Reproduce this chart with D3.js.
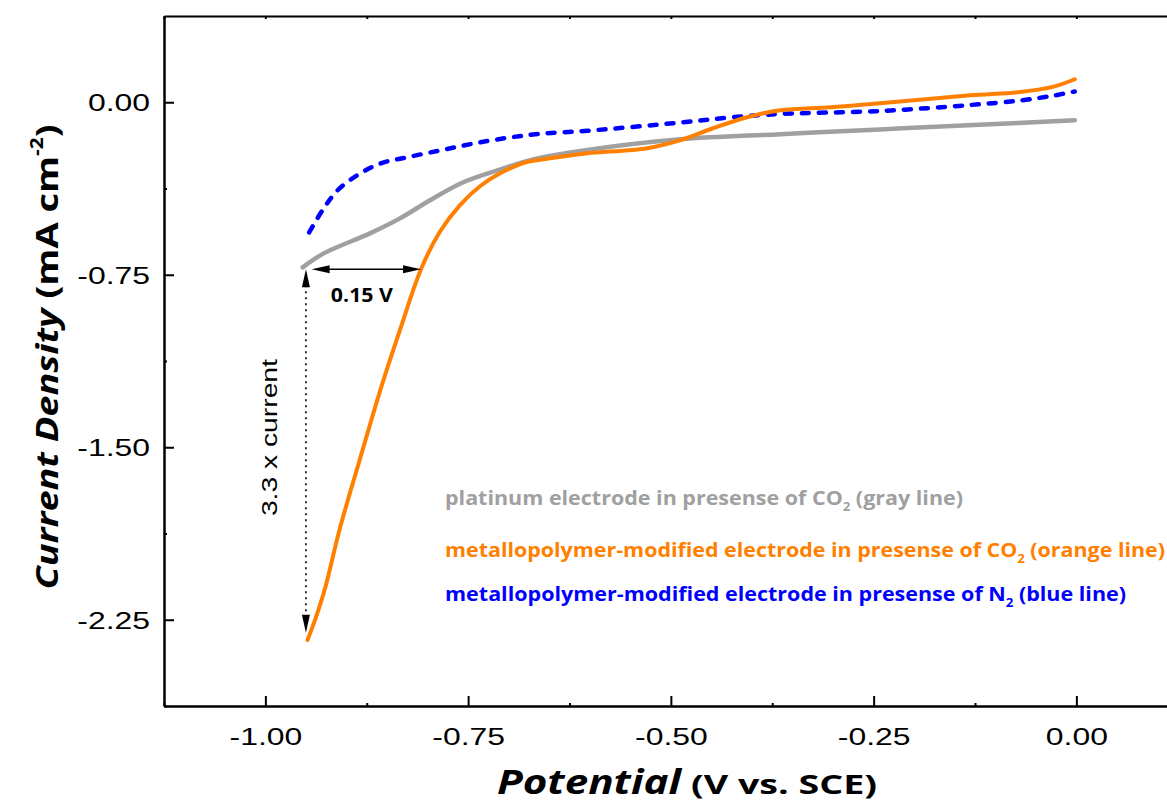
<!DOCTYPE html>
<html>
<head>
<meta charset="utf-8">
<script src="https://cdn.jsdelivr.net/npm/d3@7"></script>
<style>
  html, body { margin: 0; padding: 0; background: #fff; }
  svg { display: block; }
</style>
</head>
<body>
<svg id="chart" width="1167" height="803"></svg>
<script>
// ---------------- DATA ----------------
const potentialGray = [-0.954,-0.928,-0.871,-0.834,-0.797,-0.756,-0.714,-0.665,-0.603,-0.488,-0.365,-0.242,-0.120,-0.002];
const currentGray   = [-0.718,-0.657,-0.570,-0.505,-0.426,-0.348,-0.296,-0.244,-0.207,-0.161,-0.139,-0.118,-0.098,-0.078];

const potentialOrange = [-0.948,-0.938,-0.927,-0.908,-0.883,-0.859,-0.834,-0.808,-0.785,-0.760,-0.735,-0.710,-0.682,-0.640,-0.603,-0.529,-0.488,-0.448,-0.406,-0.365,-0.303,-0.242,-0.131,-0.069,-0.028,-0.002];
const currentOrange   = [-2.338,-2.243,-2.121,-1.851,-1.547,-1.260,-0.990,-0.725,-0.564,-0.447,-0.364,-0.308,-0.264,-0.239,-0.222,-0.200,-0.165,-0.113,-0.065,-0.035,-0.022,-0.004,0.030,0.045,0.068,0.100];

const potentialBlue = [-0.946,-0.928,-0.911,-0.887,-0.858,-0.825,-0.784,-0.744,-0.702,-0.661,-0.603,-0.488,-0.427,-0.365,-0.242,-0.131,-0.069,-0.028,-0.002];
const currentBlue   = [-0.566,-0.461,-0.383,-0.318,-0.266,-0.239,-0.209,-0.180,-0.155,-0.137,-0.124,-0.088,-0.066,-0.051,-0.038,-0.012,0.008,0.029,0.047];

const xTickValues = [-1.00,-0.75,-0.50,-0.25,0.00];
const xTickLabels = ["-1.00","-0.75","-0.50","-0.25","0.00"];
const xMinorValues = [-1.125,-0.875,-0.625,-0.375,-0.125,0.125];
const yTickValues = [0.00,-0.75,-1.50,-2.25];
const yTickLabels = ["0.00","-0.75","-1.50","-2.25"];
const yMinorValues = [-0.375,-1.125,-1.875,-2.625];

const xDomain = [-1.125, 0.125];
const yDomain = [0.375, -2.625];

// annotations (data coordinates)
const hArrow = {x1: -0.943, x2: -0.808, y: -0.726, label: "0.15 V", lx: -0.881, ly: -0.87};
const vArrow = {x: -0.950, y1: -0.726, y2: -2.306, label: "3.3 x current", lx: -0.996, ly: -1.458};

const legendItems = [
  {pre: "platinum electrode in presense of CO", sub: "2", post: " (gray line)", color: "#a0a0a0", width: 518},
  {pre: "metallopolymer-modified electrode in presense of CO", sub: "2", post: " (orange line)", color: "#ff8000", width: 720},
  {pre: "metallopolymer-modified electrode in presense of N", sub: "2", post: " (blue line)", color: "#0000ff", width: 681}
];

// ---------------- LAYOUT ----------------
const plotLeft = 164, plotTop = 16, plotBottom = 706, pxPerV = 811;
const plotRight = plotLeft + (xDomain[1]-xDomain[0]) * pxPerV;
const STRETCH = 1.33;

const svg = d3.select("#chart");
const x = d3.scaleLinear().domain(xDomain).range([plotLeft, plotRight]);
const y = d3.scaleLinear().domain(yDomain).range([plotTop, plotBottom]);

function stretch(sel, k) {
  sel.each(function() {
    const len = this.getComputedTextLength();
    d3.select(this).attr("textLength", len * k).attr("lengthAdjust", "spacingAndGlyphs");
  });
}

// ---------------- AXES ----------------
const tickFont = "'Liberation Sans', Arial, sans-serif";

const gx = svg.append("g").attr("transform", `translate(0,${plotBottom})`)
  .call(d3.axisBottom(x).tickValues(xTickValues).tickFormat((d,i)=>xTickLabels[i]).tickSize(-10).tickSizeOuter(0).tickPadding(22));
svg.append("g").attr("transform", `translate(0,${plotBottom})`)
  .call(d3.axisBottom(x).tickValues(xMinorValues).tickFormat("").tickSize(-3).tickSizeOuter(0));
svg.append("g").attr("transform", `translate(0,${plotTop})`)
  .call(d3.axisTop(x).tickValues(xTickValues.concat(xMinorValues)).tickFormat("").tickSize(-3).tickSizeOuter(0));
const gy = svg.append("g").attr("transform", `translate(${plotLeft},0)`)
  .call(d3.axisLeft(y).tickValues(yTickValues).tickFormat((d,i)=>yTickLabels[i]).tickSize(-10).tickSizeOuter(0).tickPadding(14));
svg.append("g").attr("transform", `translate(${plotLeft},0)`)
  .call(d3.axisLeft(y).tickValues(yMinorValues).tickFormat("").tickSize(-3).tickSizeOuter(0));

svg.selectAll(".domain").attr("stroke", "#000").attr("stroke-width", 2);
svg.selectAll(".tick line").attr("stroke", "#000").attr("stroke-width", 2);

gx.selectAll(".tick text").attr("font-family", tickFont).attr("font-size", 24).attr("fill", "#000")
  .attr("dy", "0.71em");
gy.selectAll(".tick text").attr("font-family", tickFont).attr("font-size", 24).attr("fill", "#000")
  .attr("dy", "0.35em");
stretch(gx.selectAll(".tick text"), STRETCH);
stretch(gy.selectAll(".tick text"), STRETCH);

// ---------------- LINES ----------------
const line = d3.line().x(d=>x(d[0])).y(d=>y(d[1])).curve(d3.curveCatmullRom.alpha(0.5));
const zip = (a,b) => a.map((v,i)=>[v,b[i]]);

const plot = svg.append("g");
plot.append("path").datum(zip(potentialGray, currentGray))
  .attr("d", line).attr("fill", "none").attr("stroke", "#a0a0a0").attr("stroke-width", 4.5).attr("stroke-linecap", "round");
plot.append("path").datum(zip(potentialBlue, currentBlue))
  .attr("d", line).attr("fill", "none").attr("stroke", "#0000ff").attr("stroke-width", 4.5)
  .attr("stroke-dasharray", "7,10").attr("stroke-linecap", "round");
plot.append("path").datum(zip(potentialOrange, currentOrange))
  .attr("d", line).attr("fill", "none").attr("stroke", "#ff8000").attr("stroke-width", 4).attr("stroke-linecap", "round");

// ---------------- ANNOTATIONS ----------------
function arrowHead(tx, ty, dx, dy) {
  const L = 18, w = 4;
  const bx = tx - dx*L, by = ty - dy*L;
  const px = -dy*w, py = dx*w;
  svg.append("path")
    .attr("d", `M${tx},${ty} L${bx+px},${by+py} L${bx-px},${by-py} Z`)
    .attr("fill", "#000");
}

const hx1 = x(hArrow.x1), hx2 = x(hArrow.x2), hy = y(hArrow.y);
svg.append("line").attr("x1", hx1 + 10).attr("x2", hx2 - 10).attr("y1", hy).attr("y2", hy)
  .attr("stroke", "#000").attr("stroke-width", 1.6);
arrowHead(hx1, hy, -1, 0);
arrowHead(hx2, hy, 1, 0);
svg.append("text").attr("x", x(hArrow.lx)).attr("y", y(hArrow.ly))
  .attr("text-anchor", "middle").attr("font-family", "'Open Sans', sans-serif").attr("font-weight", "bold")
  .attr("font-size", 19).attr("fill", "#000").attr("textLength", 62).attr("lengthAdjust", "spacingAndGlyphs")
  .text(hArrow.label);

const vx = x(vArrow.x), vy1 = y(vArrow.y1), vy2 = y(vArrow.y2);
svg.append("line").attr("x1", vx).attr("x2", vx).attr("y1", vy1 + 16).attr("y2", vy2 - 16)
  .attr("stroke", "#000").attr("stroke-width", 1.6).attr("stroke-dasharray", "2,4");
arrowHead(vx, vy1, 0, -1);
arrowHead(vx, vy2, 0, 1);
svg.append("text")
  .attr("transform", `translate(${x(vArrow.lx)+8},${y(vArrow.ly)}) rotate(-90)`)
  .attr("text-anchor", "middle").attr("font-family", tickFont).attr("font-size", 22)
  .attr("fill", "#000").attr("textLength", 157).attr("lengthAdjust", "spacingAndGlyphs")
  .text(vArrow.label);

// ---------------- LEGEND ----------------
const legX = 445, legY = [505, 557, 601];
legendItems.forEach((it, i) => {
  const t = svg.append("text").attr("x", legX).attr("y", legY[i])
    .attr("font-family", "'Open Sans', sans-serif").attr("font-weight", "bold").attr("font-size", 19.5)
    .attr("fill", it.color);
  t.append("tspan").text(it.pre);
  t.append("tspan").attr("font-size", 12).attr("dy", 6).text(it.sub);
  t.append("tspan").attr("dy", -6).text(it.post);
  t.attr("textLength", it.width).attr("lengthAdjust", "spacingAndGlyphs");
});

// ---------------- AXIS TITLES ----------------
svg.append("text").attr("x", 497).attr("y", 794)
  .attr("font-family", "'Open Sans', sans-serif").attr("font-weight", "bold").attr("font-style", "italic")
  .attr("font-size", 34).attr("fill", "#000").attr("textLength", 184).attr("lengthAdjust", "spacingAndGlyphs")
  .text("Potential");
svg.append("text").attr("x", 691).attr("y", 794)
  .attr("font-family", "'Open Sans', sans-serif").attr("font-weight", "bold")
  .attr("font-size", 26).attr("fill", "#000").attr("textLength", 186).attr("lengthAdjust", "spacingAndGlyphs")
  .text("(V vs. SCE)");

const yt = svg.append("text").attr("text-anchor", "middle")
  .attr("transform", `translate(58,357) rotate(-90)`)
  .attr("font-family", "'Open Sans', sans-serif").attr("font-weight", "bold").attr("fill", "#000");
yt.append("tspan").attr("font-style", "italic").attr("font-size", 31).text("Current Density");
yt.append("tspan").attr("font-size", 31).text(" (mA cm");
yt.append("tspan").attr("font-size", 17).attr("dy", -15).text("-2");
yt.append("tspan").attr("font-size", 31).attr("dy", 15).text(")");
yt.attr("textLength", 465).attr("lengthAdjust", "spacingAndGlyphs");
</script>
</body>
</html>
